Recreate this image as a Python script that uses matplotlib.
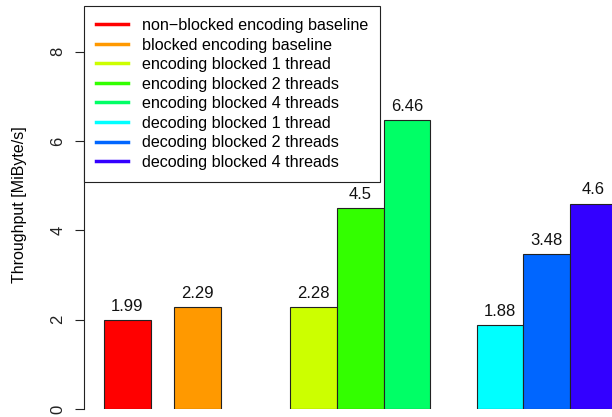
import matplotlib
matplotlib.use('Agg')
import matplotlib.pyplot as plt
from matplotlib.lines import Line2D

plt.rcParams.update({
    'font.family': ['Liberation Sans', 'DejaVu Sans'],
    'font.size': 12,
    'axes.edgecolor': '#222',
    'ytick.color': '#222',
})

labels = ['non\u2212blocked encoding baseline', 'blocked encoding baseline',
          'encoding blocked 1 thread', 'encoding blocked 2 threads',
          'encoding blocked 4 threads', 'decoding blocked 1 thread',
          'decoding blocked 2 threads', 'decoding blocked 4 threads']
values = [1.99, 2.29, 2.28, 4.5, 6.46, 1.88, 3.48, 4.6]
value_text = ['1.99', '2.29', '2.28', '4.5', '6.46', '1.88', '3.48', '4.6']
# R rainbow(10)[1:8]
colors = ['#FF0000', '#FF9900', '#CCFF00', '#33FF00', '#00FF66',
          '#00FFFF', '#0066FF', '#3300FF']
# left edges in bar-width units (R barplot spacing)
lefts = [0, 1.5, 4, 5, 6, 8, 9, 10]

W, H = 612, 417
fig = plt.figure(figsize=(W / 100, H / 100), dpi=100)
ax = fig.add_axes([84 / W, 8 / H, (W - 84) / W, (H - 8) / H])

ax.bar(lefts, values, width=1.0, align='edge', color=colors,
       edgecolor='#222', linewidth=0.8)
for x, v, t in zip(lefts, values, value_text):
    ax.annotate(t, xy=(x + 0.5, v), xytext=(0, 6.5), textcoords='offset points',
                ha='center', va='baseline', fontsize=12, color='#111')

ax.set_xlim(-0.43, (W - 104) / 46.6)
ax.set_ylim(0, 401 / 43.8)
for s in ['top', 'right', 'bottom']:
    ax.spines[s].set_visible(False)
ax.spines['left'].set_bounds(0, 8)
ax.spines['left'].set_linewidth(0.8)
ax.set_xticks([])
ax.set_yticks([0, 2, 4, 6, 8])
ax.tick_params(axis='y', length=6.5, width=0.8, pad=7, labelsize=12)
for lab in ax.get_yticklabels():
    lab.set_rotation(90)
    lab.set_va('center')
ax.set_ylabel('Throughput [MiByte/s]', fontsize=11.5, labelpad=17)

handles = [Line2D([], [], color=c, lw=2.5) for c in colors]
leg = ax.legend(handles, labels, loc='upper left',
                bbox_to_anchor=(84 / W, 1 - 6 / H), bbox_transform=fig.transFigure,
                frameon=True, fancybox=False, framealpha=1, edgecolor='#222',
                handlelength=2.0, handletextpad=0.85, labelspacing=0.28,
                borderpad=0.75, borderaxespad=0, fontsize=11.6)
leg.get_frame().set_linewidth(0.8)

fig.savefig('out.png', dpi=100)
